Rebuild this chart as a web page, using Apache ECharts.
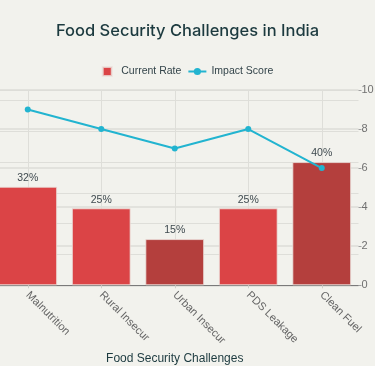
<!DOCTYPE html>
<html>
<head>
<meta charset="utf-8">
<script src="https://cdn.jsdelivr.net/npm/echarts@6/dist/echarts.min.js"></script>
<style>
html,body{margin:0;padding:0;background:#f2f2ed;}
#chart{width:375px;height:366px;}
</style>
</head>
<body>
<div id="chart"></div>
<script>
var categories = ['Malnutrition', 'Rural Insecur', 'Urban Insecur', 'PDS Leakage', 'Clean Fuel'];
var currentRate = [32, 25, 15, 25, 40];
var impactScore = [9, 8, 7, 8, 6];
var rightTicks = [0, 2, 4, 6, 8, 10];

var barColors = ['#db4446', '#db4446', '#b43f3d', '#db4446', '#b43f3d'];
var FONT = '"Liberation Sans", Arial, sans-serif';

var chart = echarts.init(document.getElementById('chart'), null, {renderer: 'canvas'});
chart.setOption({
  backgroundColor: '#f2f2ed',
  animation: false,
  textStyle: {fontFamily: FONT},
  title: {
    text: 'Food Security Challenges in India',
    left: 'center',
    top: 18,
    textStyle: {fontFamily: 'Inter, "Liberation Sans", sans-serif', fontSize: 16.5, fontWeight: 500, color: '#1c3a3f'}
  },
  legend: {
    top: 61,
    left: 'center',
    itemWidth: 18,
    itemHeight: 9,
    itemGap: 6,
    textStyle: {fontFamily: FONT, fontSize: 10.5, color: '#33444a'},
    data: [
      {name: 'Current Rate', icon: 'path://M0,0H10V10H0Z'},
      {name: 'Impact Score'}
    ]
  },
  grid: {left: -9, right: 16.5, top: 90, bottom: 80.7, containLabel: false, outerBoundsMode: 'none'},
  xAxis: {
    type: 'category',
    data: categories,
    name: 'Food Security Challenges',
    nameLocation: 'middle',
    nameGap: 61,
    nameTextStyle: {fontFamily: FONT, fontSize: 12, color: '#1c3a3f'},
    axisLine: {show: true, lineStyle: {color: '#7a7a7a', width: 1}},
    axisTick: {show: true, alignWithLabel: true, length: 3, lineStyle: {color: '#cfcfca'}},
    axisLabel: {rotate: -45, fontSize: 11, color: '#666666', margin: 8, interval: 0},
    splitLine: {show: true, alignWithLabel: true, lineStyle: {color: '#deded9', width: 1}}
  },
  yAxis: [
    {
      type: 'value',
      min: 0,
      max: 63.4,
      interval: 10,
      axisLabel: {show: false},
      axisLine: {show: false},
      axisTick: {show: false},
      splitLine: {show: true, lineStyle: {color: '#deded9', width: 1}}
    },
    {
      type: 'value',
      position: 'right',
      min: rightTicks[0],
      max: rightTicks[rightTicks.length - 1],
      interval: rightTicks[1] - rightTicks[0],
      axisLine: {show: false},
      axisTick: {show: true, length: 3, lineStyle: {color: '#a0a0a0'}},
      axisLabel: {fontSize: 11, color: '#707070', margin: 3},
      splitLine: {show: true, lineStyle: {color: '#dcdcd7', width: 1.5}}
    }
  ],
  series: [
    {
      name: 'Current Rate',
      type: 'bar',
      yAxisIndex: 0,
      barWidth: '80%',
      data: currentRate.map(function (v, i) {
        return {value: v, itemStyle: {color: barColors[i]}};
      }),
      itemStyle: {color: '#db4446', borderColor: 'rgba(235,225,220,0.8)', borderWidth: 1},
      label: {
        show: true,
        position: 'top',
        distance: 3,
        fontSize: 10.5,
        color: '#3f4a4f',
        formatter: function (p) { return p.value + '%'; }
      }
    },
    {
      name: 'Impact Score',
      type: 'line',
      yAxisIndex: 1,
      data: impactScore,
      symbol: 'circle',
      symbolSize: 6,
      lineStyle: {color: '#22b4d0', width: 2},
      itemStyle: {color: '#22b4d0'}
    }
  ]
});
</script>
</body>
</html>
